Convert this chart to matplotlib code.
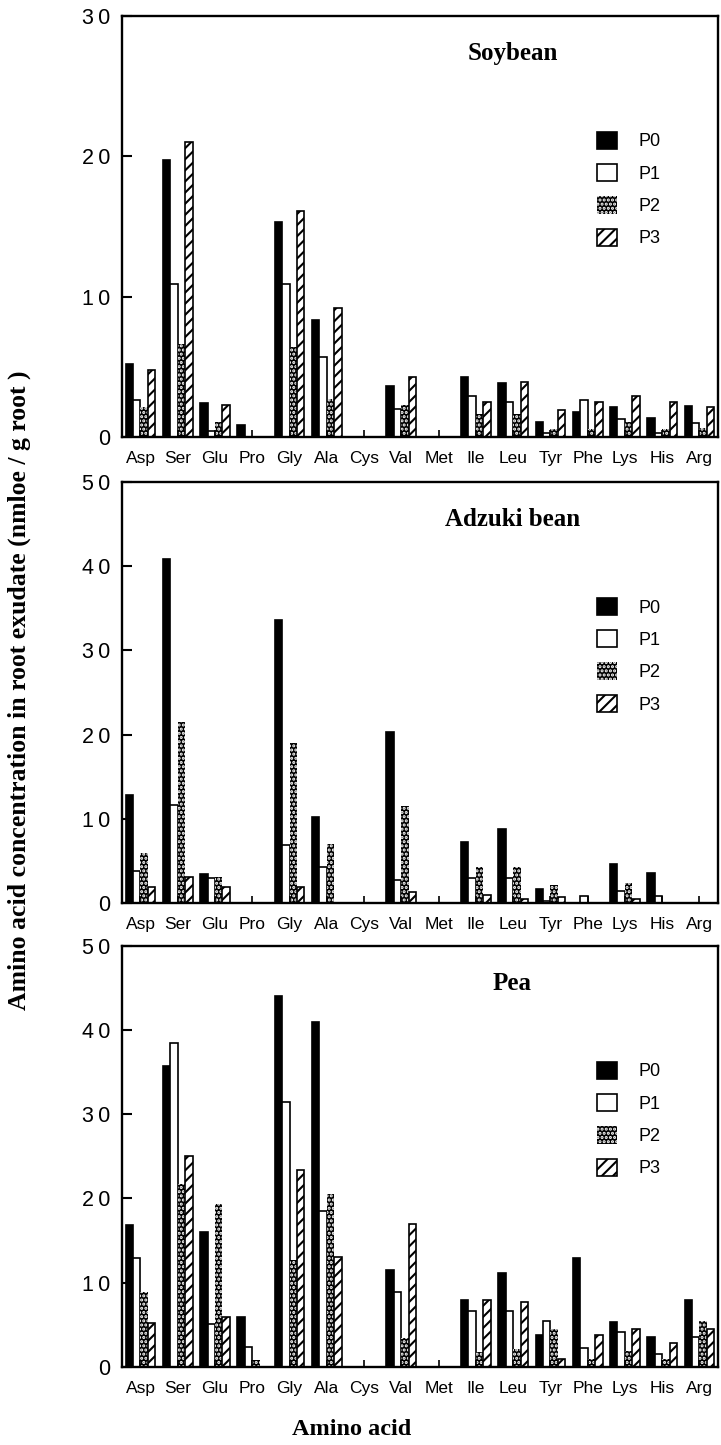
import matplotlib.pyplot as plt
import numpy as np
from matplotlib.patches import Patch

plt.rcParams['hatch.linewidth'] = 1.5
plt.rcParams['font.family'] = ['Liberation Sans', 'DejaVu Sans']

amino_acids = ['Asp', 'Ser', 'Glu', 'Pro', 'Gly', 'Ala', 'Cys', 'Val',
               'Met', 'Ile', 'Leu', 'Tyr', 'Phe', 'Lys', 'His', 'Arg']
treatments = ['P0', 'P1', 'P2', 'P3']

# Soybean
soy_p0 = [5.2, 19.7, 2.4, 0.85, 15.3, 8.3, 0, 3.6, 0, 4.3, 3.85, 1.05, 1.8, 2.1, 1.35, 2.2]
soy_p1 = [2.6, 10.9, 0.4, 0, 10.9, 5.7, 0, 2.0, 0, 2.9, 2.5, 0.3, 2.65, 1.3, 0.25, 1.0]
soy_p2 = [2.1, 6.6, 1.1, 0, 6.4, 2.7, 0, 2.3, 0, 1.65, 1.65, 0.6, 0.6, 1.05, 0.6, 0.65]
soy_p3 = [4.8, 21.0, 2.3, 0, 16.1, 9.2, 0, 4.25, 0, 2.5, 3.95, 1.9, 2.5, 2.9, 2.5, 2.1]

# Adzuki bean
adz_p0 = [12.8, 40.8, 3.4, 0, 33.6, 10.2, 0, 20.3, 0, 7.3, 8.8, 1.7, 0, 4.6, 3.6, 0]
adz_p1 = [3.8, 11.7, 3.0, 0, 6.9, 4.3, 0, 2.8, 0, 3.0, 3.0, 0.2, 0.9, 1.4, 0.9, 0]
adz_p2 = [5.9, 21.5, 3.1, 0, 19.0, 7.0, 0, 11.5, 0, 4.3, 4.3, 2.1, 0, 2.4, 0, 0]
adz_p3 = [1.9, 3.1, 1.9, 0, 1.9, 0, 0, 1.3, 0, 1.0, 0.5, 0.7, 0, 0.5, 0, 0]

# Pea
pea_p0 = [16.8, 35.7, 16.0, 5.9, 44.0, 40.9, 0, 11.5, 0, 7.9, 11.1, 3.8, 12.9, 5.3, 3.5, 7.9]
pea_p1 = [12.9, 38.5, 5.1, 2.4, 31.5, 18.5, 0, 8.9, 0, 6.6, 6.7, 5.4, 2.3, 4.2, 1.5, 3.5]
pea_p2 = [8.9, 21.7, 19.3, 0.8, 12.7, 20.5, 0, 3.4, 0, 1.8, 2.1, 4.5, 0.9, 1.9, 0.9, 5.5]
pea_p3 = [5.2, 25.1, 5.9, 0, 23.4, 13.1, 0, 17.0, 0, 7.9, 7.7, 0.9, 3.8, 4.5, 2.8, 4.5]

soy_ticks = [0, 10, 20, 30]
other_ticks = [0, 10, 20, 30, 40, 50]

panels = [
    ('Soybean', [soy_p0, soy_p1, soy_p2, soy_p3], soy_ticks, 0.6976),
    ('Adzuki bean', [adz_p0, adz_p1, adz_p2, adz_p3], other_ticks, 0.375),
    ('Pea', [pea_p0, pea_p1, pea_p2, pea_p3], other_ticks, 0.054),
]

# bar styles for P0..P3 (P2: white dots on black -> stipple)
styles = [
    dict(facecolor='black', edgecolor='black', hatch=None, linewidth=1.2),
    dict(facecolor='white', edgecolor='black', hatch=None, linewidth=1.2),
    dict(facecolor='black', edgecolor='white', hatch='....', linewidth=0),
    dict(facecolor='white', edgecolor='black', hatch='///', linewidth=1.2),
]

fig = plt.figure(figsize=(7.21, 14.45), dpi=100)
x = np.arange(len(amino_acids))
w = 0.2

for title, series, yticks, bottom in panels:
    ax = fig.add_axes([0.169, bottom, 0.827, 0.2915])
    for i, vals in enumerate(series):
        ax.bar(x + (i - 1.5) * w, vals, width=w, label=treatments[i], **styles[i])
    ax.set_xlim(-0.5, len(amino_acids) - 0.5)
    ax.set_ylim(0, yticks[-1])
    ax.set_yticks(yticks)
    ax.set_yticklabels(['\u2009'.join(str(t)) for t in yticks], fontsize=15.5)
    ax.set_xticks(x)
    ax.set_xticklabels(amino_acids, fontsize=12.5)
    ax.tick_params(axis='y', direction='in', length=7, width=1.5, pad=8)
    ax.tick_params(axis='x', direction='in', length=5, width=1.2, pad=10)
    for sp in ax.spines.values():
        sp.set_linewidth(1.7)

    ax.text(0.655, 0.91, title, transform=ax.transAxes, ha='center', va='center',
            fontsize=18, fontweight='bold', family='Liberation Serif')

    handles = [Patch(**styles[i]) for i in range(4)]
    ax.legend(handles, treatments, loc='upper left', bbox_to_anchor=(0.797, 0.725),
              frameon=False, fontsize=13, handlelength=1.1, handleheight=1.1,
              handletextpad=1.2, labelspacing=0.75, borderpad=0, borderaxespad=0)

fig.text(0.027, 0.5225, 'Amino acid concentration in root exudate (nmloe / g root )',
         rotation=90, ha='center', va='center', fontsize=18.5, fontweight='bold',
         family='Liberation Serif')
fig.text(0.487, 0.0105, 'Amino acid', ha='center', va='center', fontsize=17.5,
         fontweight='bold', family='Liberation Serif')

fig.savefig('out.png', dpi=100)
